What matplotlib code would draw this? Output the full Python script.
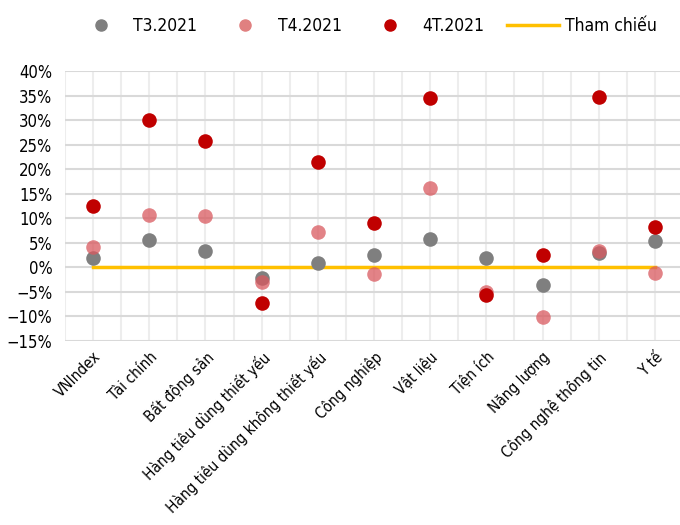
import matplotlib
matplotlib.use("Agg")
import matplotlib.pyplot as plt
from matplotlib.ticker import MultipleLocator, PercentFormatter
from matplotlib.lines import Line2D

plt.rcParams['font.family'] = ['DejaVu Sans']
plt.rcParams['font.stretch'] = 'condensed'

sectors = ['VNIndex', 'Tài chính', 'Bất động sản', 'Hàng tiêu dùng thiết yếu',
           'Hàng tiêu dùng không thiết yếu', 'Công nghiệp', 'Vật liệu', 'Tiện ích',
           'Năng lượng', 'Công nghệ thông tin', 'Y tế']
t3_2021 = [2.0, 5.5, 3.3, -2.2, 0.8, 2.5, 5.7, 1.9, -3.5, 2.9, 5.3]
t4_2021 = [4.1, 10.6, 10.5, -3.0, 7.2, -1.4, 16.2, -5.0, -10.1, 3.3, -1.2]
ytd_2021 = [12.4, 30.1, 25.7, -7.3, 21.5, 9.0, 34.5, -5.6, 2.5, 34.7, 8.2]
reference = [0.0] * len(sectors)

fig = plt.figure(figsize=(6.8, 5.25), dpi=100)
ax = fig.add_axes([65 / 680, 184 / 525, 618 / 680, 270 / 525])

x = list(range(len(sectors)))
ax.plot(x, reference, color='#ffc000', lw=2.5, zorder=2)
ax.scatter(x, t3_2021, s=110, color='#7f7f7f', zorder=3, linewidths=0)
ax.scatter(x, t4_2021, s=110, color='#d9595f', alpha=0.75, zorder=4, linewidths=0)
ax.scatter(x, ytd_2021, s=110, color='#c00000', zorder=5, linewidths=0)

ax.set_xlim(-0.5, 10.45)
ax.set_ylim(-15, 40)
ax.yaxis.set_major_locator(MultipleLocator(5))
ax.yaxis.set_major_formatter(PercentFormatter(decimals=0))
ax.set_xticks(x)
ax.set_xticks([i + 0.5 for i in range(-1, len(sectors))], minor=True)
ax.set_xticklabels(sectors, rotation=45, ha='right', rotation_mode='anchor', fontsize=11)
ax.tick_params(axis='y', labelsize=12, length=0, pad=9)
ax.tick_params(axis='x', which='both', length=0, pad=6)

ax.grid(axis='y', color='#d9d9d9', lw=1.5, zorder=0)
ax.grid(axis='x', which='both', color='#ededed', lw=1.5, zorder=0)
for s in ax.spines.values():
    s.set_visible(False)

handles = [
    Line2D([], [], marker='o', ls='none', color='#7f7f7f', markersize=8, label='T3.2021'),
    Line2D([], [], marker='o', ls='none', color='#e08080', markersize=8, label='T4.2021'),
    Line2D([], [], marker='o', ls='none', color='#c00000', markersize=8, label='4T.2021'),
    Line2D([], [], color='#ffc000', lw=2.5, label='Tham chiếu'),
]
fig.legend(handles=handles, loc='center', bbox_to_anchor=(0.538, 0.95), ncol=4,
           frameon=False, fontsize=12.5, handlelength=3.0, columnspacing=1.3, handletextpad=0.35)

fig.savefig('out.png', dpi=100)
